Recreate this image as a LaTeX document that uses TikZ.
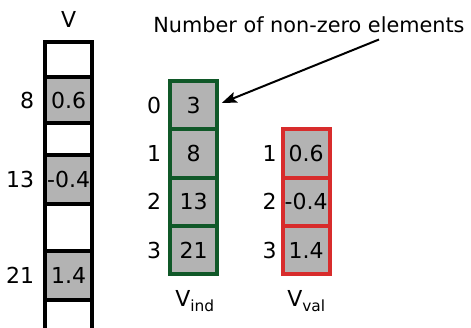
\documentclass[tikz,border=0pt]{standalone}
\usepackage{fontspec}
\setmainfont{DejaVu Sans}
\usepackage{tikz}
\usetikzlibrary{arrows.meta}
\definecolor{cellgray}{RGB}{179,179,179}
\definecolor{indgreen}{RGB}{16,88,40}
\definecolor{valred}{RGB}{216,44,44}

\begin{document}
\begin{tikzpicture}[
		x=1pt, y=-1pt,
		every node/.style={inner sep=0pt, font=\fontsize{22}{26}\selectfont},
		vcell/.style={draw, line width=4pt, minimum width=46.7pt},
		indcell/.style={draw=indgreen, line width=4pt, fill=cellgray, minimum width=46.7pt, minimum height=48.2pt},
		valcell/.style={draw=valred, line width=4pt, fill=cellgray, minimum width=46.7pt, minimum height=48.2pt},
		vlab/.style={xshift=-9pt},
		indlab/.style={xshift=-7pt},
		vallab/.style={xshift=-4pt}
	]
  \useasboundingbox (0, 0) rectangle (471, 328);
  \node (vname) at (68.7, 19) {V};
  \node (v0) [vcell, minimum height=35.5pt] at (68.7, 59.75) {};
  \node (v8) [vcell, fill=cellgray, minimum height=46pt, label={[vlab]left:8}] at (68.7, 100.5) {0.6};
  \node (v9) [vcell, minimum height=32pt] at (68.7, 139.5) {};
  \node (v13) [vcell, fill=cellgray, minimum height=48.5pt, label={[vlab]left:13}] at (68.7, 179.75) {-0.4};
  \node (v14) [vcell, minimum height=47pt] at (68.7, 227.5) {};
  \node (v21) [vcell, fill=cellgray, minimum height=49.5pt, label={[vlab]left:21}] at (68.7, 275.75) {1.4};
  \node (v22) [vcell, minimum height=40pt] at (68.7, 320.5) {};
  \node (ind0) [indcell, label={[indlab]left:0}] at (193.7, 105.4) {3};
  \node (ind1) [indcell, label={[indlab]left:1}] at (193.7, 153.6) {8};
  \node (ind2) [indcell, label={[indlab]left:2}] at (193.7, 201.8) {13};
  \node (ind3) [indcell, label={[indlab]left:3}] at (193.7, 250.0) {21};
  \node (val1) [valcell, label={[vallab]left:1}] at (306.2, 153.6) {0.6};
  \node (val2) [valcell, label={[vallab]left:2}] at (306.2, 201.8) {-0.4};
  \node (val3) [valcell, label={[vallab]left:3}] at (306.2, 250.0) {1.4};
  \node (indname) [anchor=base] at (195, 306.5) {V\textsubscript{ind}};
  \node (valname) [anchor=base] at (306.5, 306.5) {V\textsubscript{val}};
  \node (note) [anchor=base, font=\fontsize{20.8}{25}\selectfont] at (309, 33) {Number of non-zero elements};
  \draw [line width=2pt, -{Stealth[length=15pt, width=11pt, inset=3pt]}] ([xshift=70pt, yshift=-6pt]note.south) -- ([xshift=2.7pt, yshift=2.4pt]ind0.east);
\end{tikzpicture}
\end{document}
